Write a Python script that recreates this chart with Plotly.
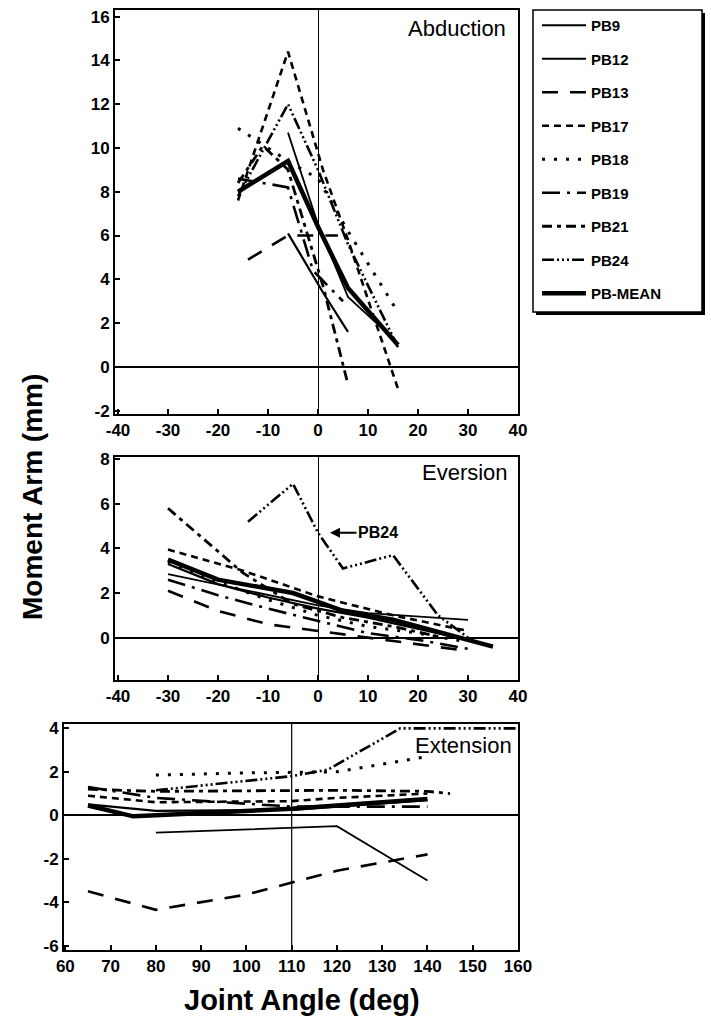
import plotly.graph_objects as go

SERIES = ["PB9", "PB12", "PB13", "PB17", "PB18", "PB19", "PB21", "PB24", "PB-MEAN"]

# Abduction panel (joint angle deg -> moment arm mm)
abd_x = {
    "PB9": [-6, 0, 6, 15],
    "PB12": [-6, -1, 1, 6],
    "PB13": [-14, -6, 4],
    "PB17": [-16, -6, 1, 6, 16],
    "PB18": [-16, -6, 0, 6, 16],
    "PB19": [-16, -6, -1, 5],
    "PB21": [-16, -11, -6, 1, 6],
    "PB24": [-16, -6, 0, 6, 16],
    "PB-MEAN": [-16, -6, 0, 6, 16],
}
abd_y = {
    "PB9": [10.7, 6.5, 3.2, 1.3],
    "PB12": [6.1, 4.2, 3.4, 1.6],
    "PB13": [4.9, 6.0, 6.0],
    "PB17": [7.6, 14.4, 9.0, 5.8, -1.0],
    "PB18": [10.9, 9.4, 8.6, 6.2, 2.5],
    "PB19": [8.6, 8.2, 4.4, 3.0],
    "PB21": [8.4, 10.1, 9.0, 3.7, -0.8],
    "PB24": [7.8, 12.0, 9.0, 5.6, 0.9],
    "PB-MEAN": [8.0, 9.4, 6.4, 3.6, 1.0],
}

# Eversion panel
eve_x = {
    "PB9": [-30, 0, 10, 30],
    "PB12": [-30, -20, -10, 0, 10, 20, 30],
    "PB13": [-30, -20, -10, 0, 10, 20, 30],
    "PB17": [-30, -15, 0, 15, 30],
    "PB18": [-30, -20, -10, 0, 10, 20, 30],
    "PB19": [-30, -20, -10, 0, 10, 20, 30],
    "PB21": [-30, -15, -5, 5, 15, 25],
    "PB24": [-14, -5, 0, 5, 15, 24, 30],
    "PB-MEAN": [-30, -20, -10, -5, 0, 5, 15, 25, 35],
}
eve_y = {
    "PB9": [2.85, 1.45, 1.1, 0.8],
    "PB12": [3.3, 2.4, 1.8, 1.3, 0.9, 0.4, -0.1],
    "PB13": [2.1, 1.2, 0.6, 0.3, 0.0, -0.3, -0.6],
    "PB17": [3.95, 3.0, 1.85, 1.0, 0.3],
    "PB18": [3.4, 2.5, 1.7, 1.0, 0.5, 0.2, -0.2],
    "PB19": [2.6, 1.9, 1.3, 0.75, 0.2, -0.1, -0.5],
    "PB21": [5.8, 2.9, 1.5, 0.9, 0.5, 0.0],
    "PB24": [5.2, 6.9, 4.7, 3.1, 3.7, 1.0, 0.0],
    "PB-MEAN": [3.5, 2.6, 2.2, 2.0, 1.6, 1.2, 0.8, 0.2, -0.4],
}

# Extension panel
ext_x = {
    "PB9": [80, 120, 140],
    "PB12": [65, 80, 110, 140],
    "PB13": [65, 80, 100, 110, 120, 140],
    "PB17": [65, 80, 110, 120, 140],
    "PB18": [80, 100, 120, 140],
    "PB19": [65, 80, 110, 140],
    "PB21": [65, 80, 120, 140, 145],
    "PB24": [80, 110, 118, 134, 160],
    "PB-MEAN": [65, 75, 80, 110, 140],
}
ext_y = {
    "PB9": [-0.8, -0.5, -3.0],
    "PB12": [0.5, 0.2, 0.25, 0.7],
    "PB13": [-3.5, -4.35, -3.65, -3.1, -2.55, -1.8],
    "PB17": [0.9, 0.6, 0.65, 0.8, 1.0],
    "PB18": [1.85, 1.95, 2.0, 2.7],
    "PB19": [1.3, 0.8, 0.4, 0.4],
    "PB21": [1.2, 1.1, 1.15, 1.1, 1.0],
    "PB24": [1.15, 1.8, 2.1, 4.0, 4.0],
    "PB-MEAN": [0.45, -0.05, 0.0, 0.3, 0.75],
}

abd_ticks = [-40, -30, -20, -10, 0, 10, 20, 30, 40]
abd_yticks = [-2, 0, 2, 4, 6, 8, 10, 12, 14, 16]
eve_ticks = [-40, -30, -20, -10, 0, 10, 20, 30, 40]
eve_yticks = [-2, 0, 2, 4, 6, 8]
ext_ticks = [60, 70, 80, 90, 100, 110, 120, 130, 140, 150, 160]
ext_yticks = [-6, -4, -2, 0, 2, 4]

STYLE = {
    "PB9": dict(dash="solid", width=1.8),
    "PB12": dict(dash="solid", width=2.2),
    "PB13": dict(dash="16px,12px", width=2.6),
    "PB17": dict(dash="7px,5px", width=2.6),
    "PB18": dict(dash="3px,9px", width=3),
    "PB19": dict(dash="18px,7px,3px,7px", width=2.6),
    "PB21": dict(dash="10px,5px,4px,5px", width=2.8),
    "PB24": dict(dash="12px,3px,2px,3px,2px,3px,2px,3px", width=2.6),
    "PB-MEAN": dict(dash="solid", width=4.5),
}

W, H = 711, 1019
def px_x(p):
    return p / W
def px_y(p):
    return 1 - p / H

def labels(vals):
    return [str(v) for v in vals]

fig = go.Figure()
panels = [(abd_x, abd_y, "x", "y"), (eve_x, eve_y, "x2", "y2"), (ext_x, ext_y, "x3", "y3")]
for pi, (dx, dy, xa, ya) in enumerate(panels):
    for s in SERIES:
        fig.add_trace(go.Scatter(
            x=dx[s], y=dy[s], mode="lines", name=s,
            line=dict(color="black", **STYLE[s]),
            xaxis=xa, yaxis=ya, showlegend=(pi == 0), legendgroup=s,
        ))

tickfont = dict(family="Liberation Sans", size=17, color="black", weight="bold")
axis_common = dict(showline=True, mirror=True, linecolor="black", linewidth=2,
                   showgrid=False, ticks="inside", ticklen=5, tickwidth=1.5,
                   tickcolor="black", tickfont=tickfont, automargin=False)

fig.update_layout(
    width=W, height=H,
    margin=dict(l=0, r=0, t=0, b=0, autoexpand=False),
    paper_bgcolor="white", plot_bgcolor="white",
    xaxis=dict(domain=[px_x(115), px_x(518)], range=[-40.6, 40], tickvals=abd_ticks,
               ticktext=labels(abd_ticks),
               anchor="y", zeroline=True, zerolinecolor="black", zerolinewidth=1.2, **axis_common),
    yaxis=dict(domain=[px_y(414), px_y(10)], range=[-2.15, 16.3], tickvals=abd_yticks,
               ticktext=labels(abd_yticks),
               anchor="x", zeroline=True, zerolinecolor="black", zerolinewidth=1.5, **axis_common),
    xaxis2=dict(domain=[px_x(115), px_x(518)], range=[-40.6, 40], tickvals=eve_ticks,
                ticktext=labels(eve_ticks),
                anchor="y2", zeroline=True, zerolinecolor="black", zerolinewidth=1.2, **axis_common),
    yaxis2=dict(domain=[px_y(680), px_y(457)], range=[-1.9, 8.1], tickvals=eve_yticks,
                ticktext=labels(eve_yticks),
                anchor="x2", zeroline=True, zerolinecolor="black", zerolinewidth=1.5, **axis_common),
    xaxis3=dict(domain=[px_x(64), px_x(518)], range=[59.7, 160], tickvals=ext_ticks,
                ticktext=labels(ext_ticks),
                anchor="y3", zeroline=False, **axis_common),
    yaxis3=dict(domain=[px_y(950), px_y(724)], range=[-6.2, 4.2], tickvals=ext_yticks,
                ticktext=labels(ext_yticks),
                anchor="x3", zeroline=True, zerolinecolor="black", zerolinewidth=1.5, **axis_common),
    legend=dict(x=px_x(537), y=px_y(9), xanchor="left", yanchor="top",
                bgcolor="rgba(0,0,0,0)", borderwidth=0, tracegroupgap=11,
                font=dict(family="Liberation Sans", size=15, color="black", weight="bold"),
                itemwidth=44),
    shapes=[
        dict(type="rect", xref="paper", yref="paper", x0=px_x(536), x1=px_x(705),
             y0=px_y(315), y1=px_y(13), fillcolor="black", line=dict(width=0), layer="above"),
        dict(type="rect", xref="paper", yref="paper", x0=px_x(533), x1=px_x(702),
             y0=px_y(312), y1=px_y(10), fillcolor="white", line=dict(color="black", width=1.5),
             layer="above"),
        dict(type="line", xref="x3", yref="y3 domain", x0=110, x1=110, y0=0, y1=1,
             line=dict(color="black", width=1.2)),
    ],
    annotations=[
        dict(text="Abduction", xref="paper", yref="paper", x=px_x(508), y=px_y(28),
             xanchor="right", yanchor="middle", showarrow=False,
             font=dict(family="Liberation Sans", size=22, color="black")),
        dict(text="Eversion", xref="paper", yref="paper", x=px_x(510), y=px_y(472),
             xanchor="right", yanchor="middle", showarrow=False,
             font=dict(family="Liberation Sans", size=22, color="black")),
        dict(text="Extension", xref="paper", yref="paper", x=px_x(514), y=px_y(745),
             xanchor="right", yanchor="middle", showarrow=False,
             font=dict(family="Liberation Sans", size=22, color="black")),
        dict(text="PB24", xref="x2", yref="y2", x=2.4, y=4.7, axref="x2", ayref="y2",
             ax=12, ay=4.7, showarrow=True, arrowhead=2, arrowsize=1, arrowwidth=2,
             arrowcolor="black",
             font=dict(family="Liberation Sans", size=16, color="black", weight="bold")),
        dict(text="Moment Arm (mm)", xref="paper", yref="paper", x=px_x(32), y=px_y(497),
             textangle=-90, showarrow=False, xanchor="center", yanchor="middle",
             font=dict(family="Liberation Sans", size=28, color="black", weight="bold")),
        dict(text="Joint Angle (deg)", xref="paper", yref="paper", x=px_x(302), y=px_y(1000),
             showarrow=False, xanchor="center", yanchor="middle",
             font=dict(family="Liberation Sans", size=29, color="black", weight="bold")),
    ],
)

fig.write_html(
    "out.html",
    config={"displayModeBar": False},
    post_script="document.body.style.margin='0';document.body.style.overflow='hidden';",
)
